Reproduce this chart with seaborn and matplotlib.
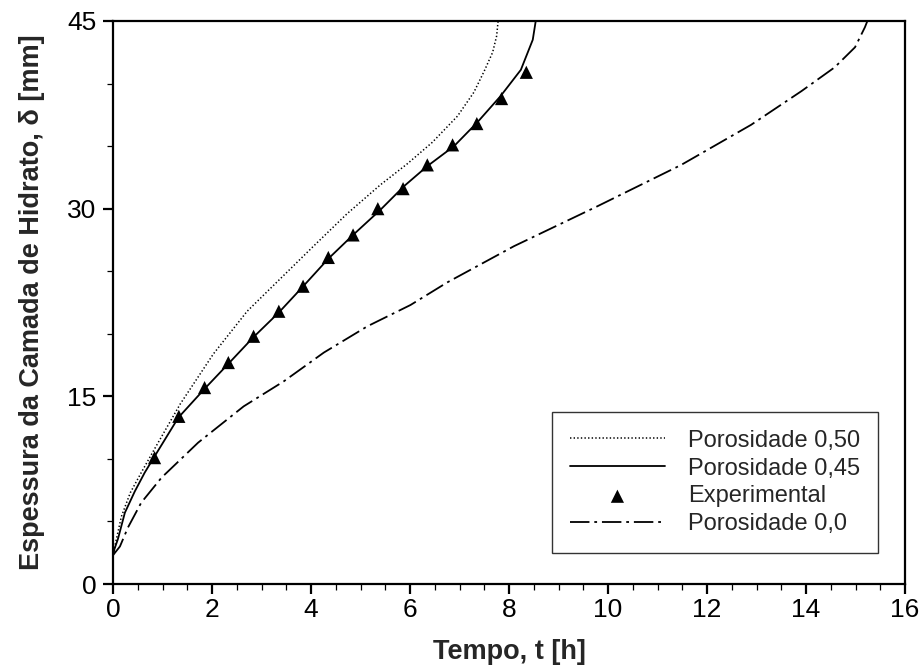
import matplotlib
matplotlib.use("Agg")
import matplotlib.pyplot as plt
from matplotlib.ticker import MultipleLocator
import seaborn as sns
import pandas as pd

# ---- data ----
t_por050 = [0, 0.03, 0.17, 0.35, 0.57, 0.84, 1.36, 2.03, 2.71, 3.38, 4.05, 4.73,
            5.40, 5.95, 6.45, 6.96, 7.29, 7.50, 7.67, 7.75, 7.78]
d_por050 = [2.3, 2.9, 5.4, 7.3, 8.9, 10.8, 14.4, 18.4, 21.8, 24.4, 27.0, 29.6,
            31.9, 33.6, 35.3, 37.4, 39.3, 41.0, 42.5, 43.8, 45.0]

t_por045 = [0, 0.03, 0.10, 0.24, 0.44, 0.64, 0.84, 1.32, 1.85, 2.33, 2.83, 3.35,
            3.82, 4.35, 4.85, 5.40, 5.88, 6.35, 6.89, 7.36, 7.83, 8.24, 8.48, 8.54]
d_por045 = [2.3, 2.8, 3.6, 5.7, 7.4, 8.9, 10.2, 13.3, 15.6, 17.6, 19.7, 21.7,
            23.7, 26.0, 27.9, 29.9, 31.8, 33.4, 35.0, 36.9, 39.0, 41.1, 43.5, 45.0]

t_exp = [0.84, 1.33, 1.85, 2.33, 2.84, 3.35, 3.84, 4.35, 4.85, 5.35, 5.86, 6.35,
         6.86, 7.35, 7.85, 8.35]
d_exp = [10.1, 13.4, 15.7, 17.7, 19.8, 21.8, 23.8, 26.1, 27.9, 30.0, 31.6, 33.5,
         35.1, 36.8, 38.8, 40.9]

t_por000 = [0, 0.14, 0.30, 0.57, 0.98, 1.72, 2.64, 3.45, 4.26, 5.14, 6.01, 6.75,
            8.10, 9.79, 11.48, 12.89, 13.91, 14.58, 14.99, 15.19, 15.24]
d_por000 = [2.3, 3.0, 4.5, 6.5, 8.5, 11.3, 14.2, 16.2, 18.5, 20.6, 22.3, 24.1,
            27.0, 30.2, 33.5, 36.7, 39.4, 41.3, 42.9, 44.5, 45.0]

x_ticks = [0, 2, 4, 6, 8, 10, 12, 14, 16]
y_ticks = [0, 15, 30, 45]

labels = ["Porosidade 0,50", "Porosidade 0,45", "Experimental", "Porosidade 0,0"]

# ---- style ----
sns.set_style("ticks")
plt.rcParams["font.family"] = ["Liberation Sans", "DejaVu Sans"]
plt.rcParams["lines.scale_dashes"] = False

fig = plt.figure(figsize=(9.23, 6.65), dpi=100)
ax = fig.add_axes([113 / 923, 1 - 584 / 665, (905 - 113) / 923, (584 - 21) / 665])

df050 = pd.DataFrame({"t": t_por050, "d": d_por050})
df045 = pd.DataFrame({"t": t_por045, "d": d_por045})
dfexp = pd.DataFrame({"t": t_exp, "d": d_exp})
df000 = pd.DataFrame({"t": t_por000, "d": d_por000})

sns.lineplot(data=df050, x="t", y="d", ax=ax, color="black", lw=1.1,
             linestyle=(0, (1.0, 1.6)), sort=False, estimator=None, label=labels[0])
sns.lineplot(data=df045, x="t", y="d", ax=ax, color="black", lw=1.3,
             sort=False, estimator=None, label=labels[1])
sns.scatterplot(data=dfexp, x="t", y="d", ax=ax, color="black", marker="^",
                s=90, edgecolor="none", label=labels[2], zorder=3)
sns.lineplot(data=df000, x="t", y="d", ax=ax, color="black", lw=1.3,
             linestyle=(0, (14, 3.5, 2, 3.5)), sort=False, estimator=None,
             label=labels[3])

ax.set_xlim(0, 16)
ax.set_ylim(0, 45)
ax.set_xticks(x_ticks)
ax.set_yticks(y_ticks)
ax.set_xticklabels([str(v) for v in x_ticks])
ax.set_yticklabels([str(v) for v in y_ticks])
ax.xaxis.set_minor_locator(MultipleLocator(0.5))
ax.yaxis.set_minor_locator(MultipleLocator(5))

ax.tick_params(which="major", direction="out", length=7, width=1.6,
               labelsize=19, color="black", labelcolor="black", pad=3)
ax.tick_params(axis="y", which="major", pad=5)
ax.tick_params(which="minor", direction="out", length=4.5, width=0.9,
               color="black")

for sp in ax.spines.values():
    sp.set_visible(True)
    sp.set_linewidth(1.6)
    sp.set_color("black")

ax.set_xlabel("Tempo, t [h]", fontsize=19.5, fontweight="bold", labelpad=12)
ax.set_ylabel("Espessura da Camada de Hidrato, δ [mm]", fontsize=19.5,
              fontweight="bold", labelpad=16)

h, l = ax.get_legend_handles_labels()
hmap = dict(zip(l, h))
leg = ax.legend([hmap[k] for k in labels], labels, loc="lower right",
                bbox_to_anchor=(0.966, 0.055), fontsize=17, frameon=True,
                fancybox=False, edgecolor="#333333", framealpha=1,
                handlelength=4.0, handletextpad=1.0, borderpad=0.75,
                labelspacing=0.25, borderaxespad=0, scatterpoints=1)
leg.get_frame().set_linewidth(1.0)

fig.savefig("out.png", dpi=100)
